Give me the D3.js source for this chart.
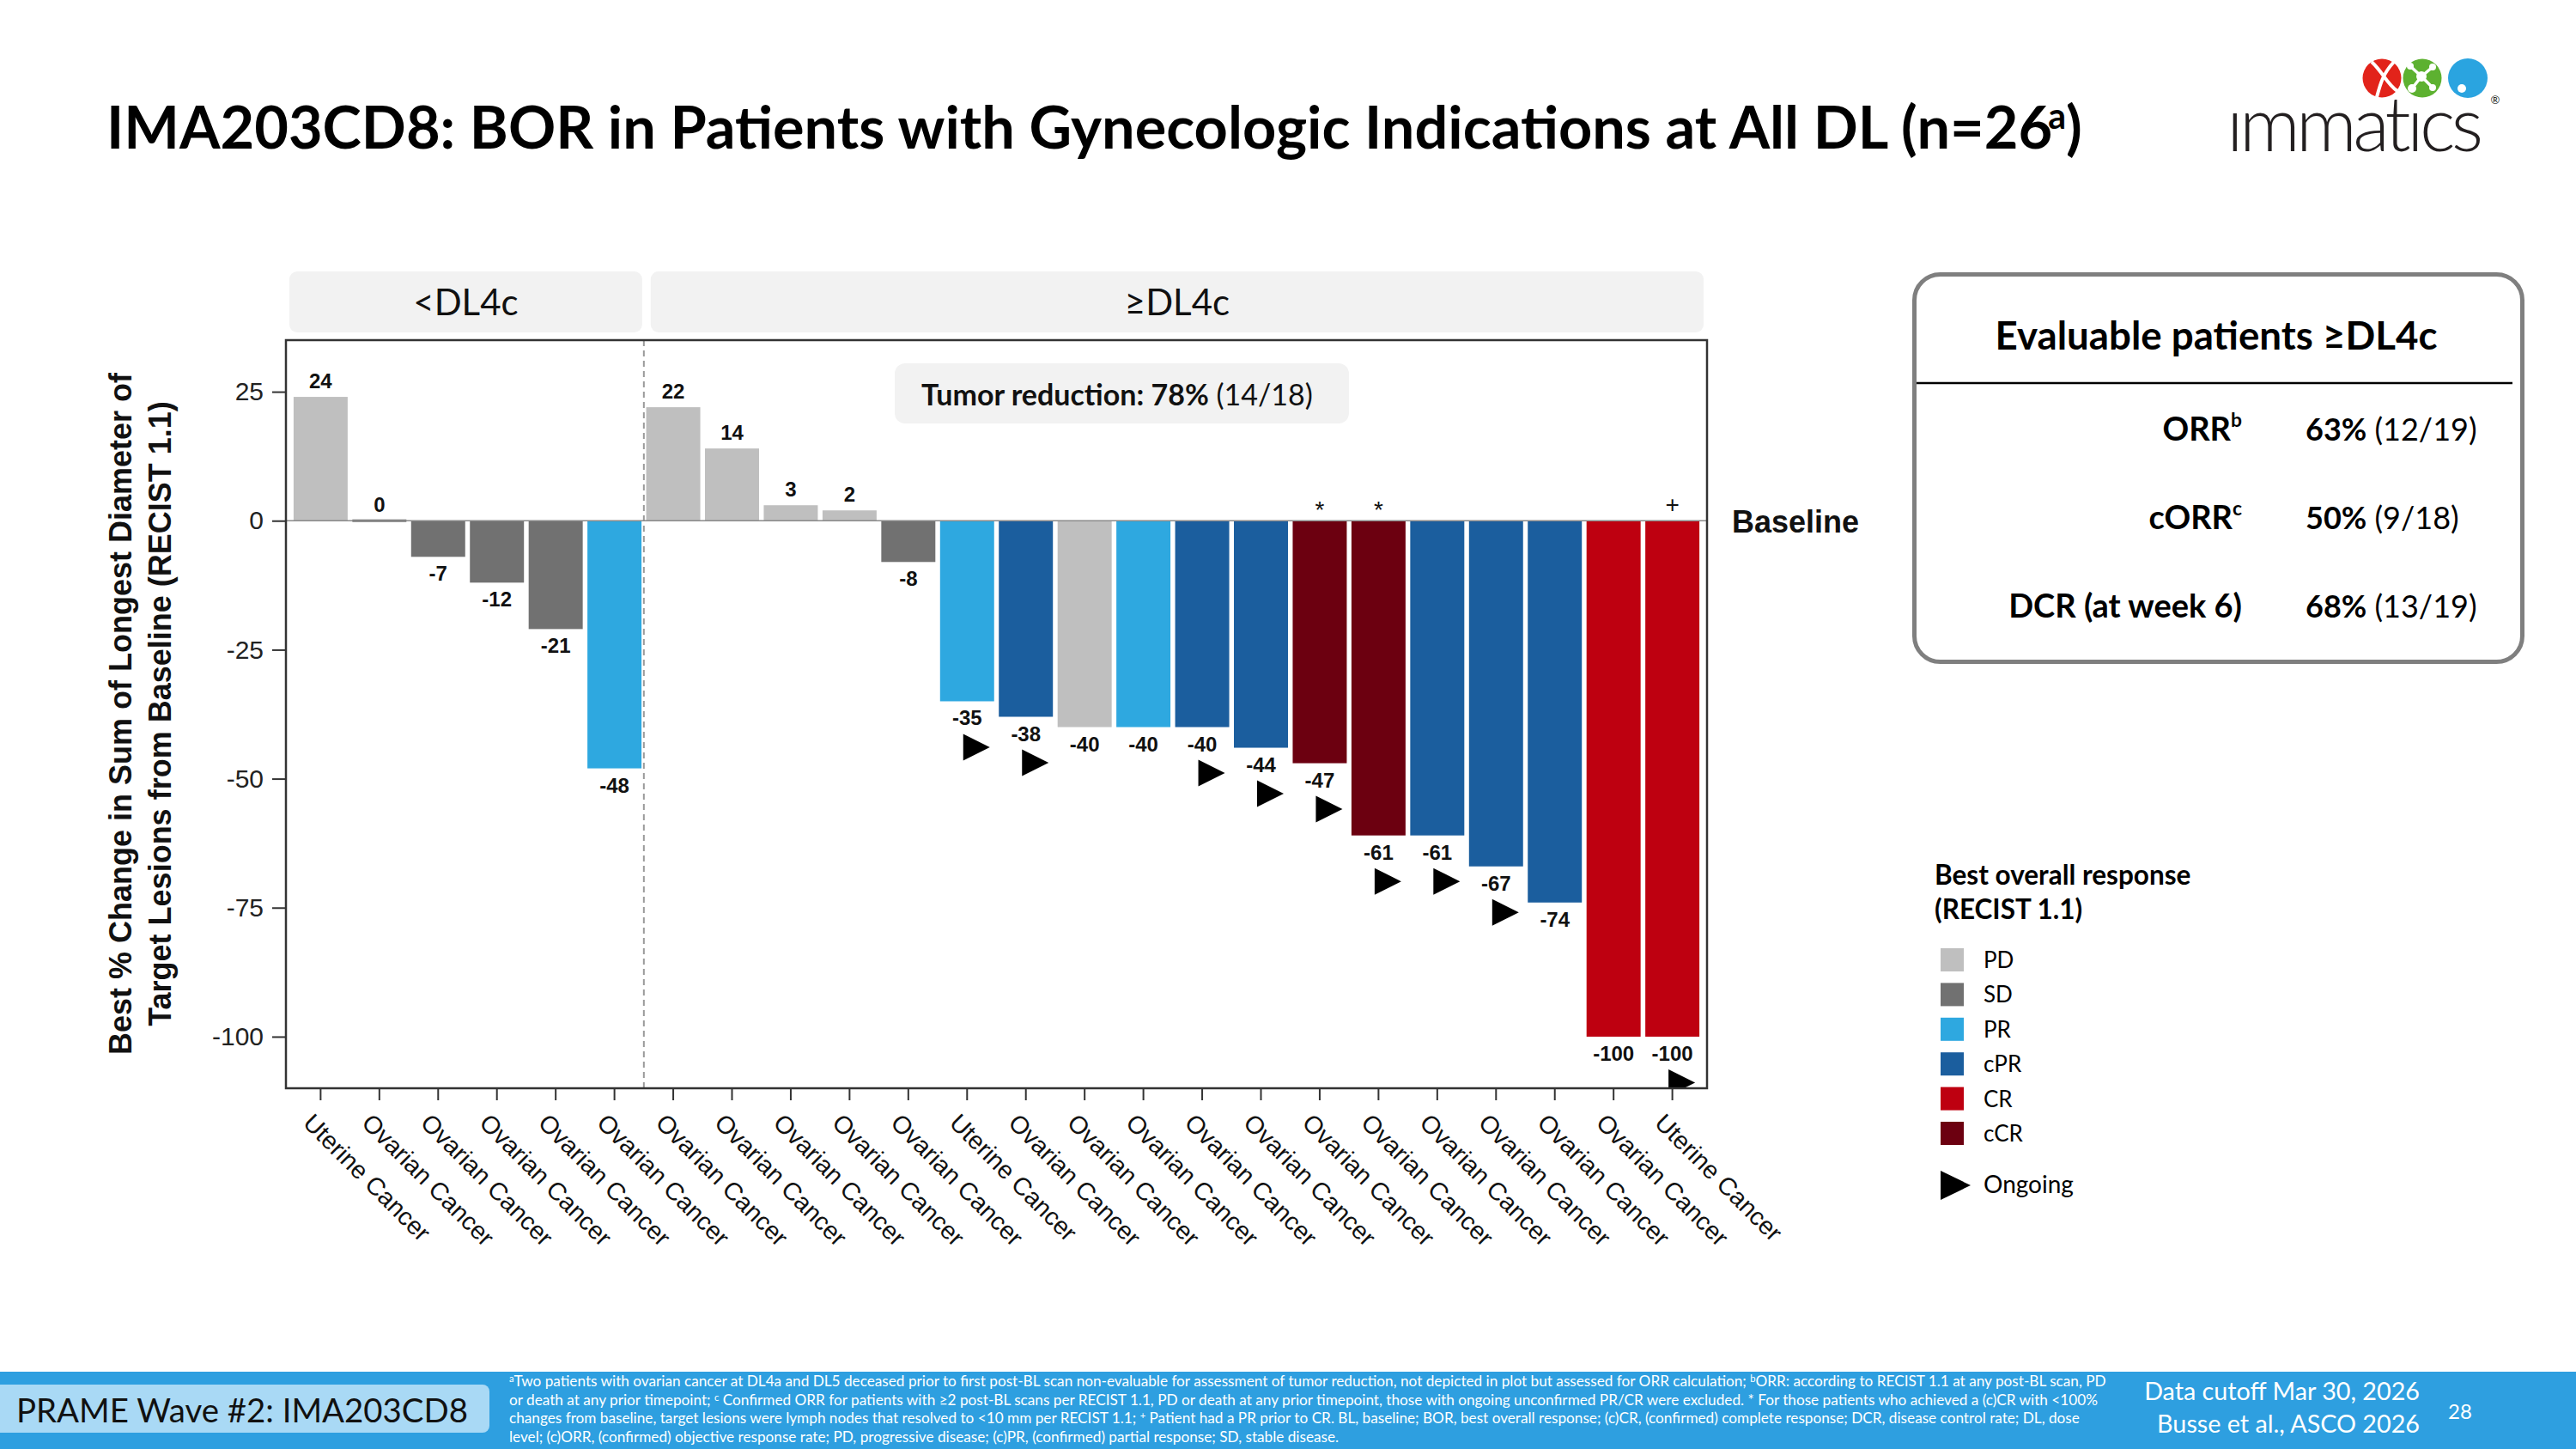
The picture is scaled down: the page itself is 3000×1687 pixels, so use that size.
<!DOCTYPE html>
<html><head><meta charset="utf-8">
<script src="https://cdn.jsdelivr.net/npm/d3@7"></script>
<style>body{margin:0;background:#fff} svg{display:block}</style>
</head><body>
<svg id="c" width="3000" height="1687"></svg>
<script>
// ---------------- DATA ----------------
const categories = ["Uterine Cancer","Ovarian Cancer","Ovarian Cancer","Ovarian Cancer","Ovarian Cancer","Ovarian Cancer",
  "Ovarian Cancer","Ovarian Cancer","Ovarian Cancer","Ovarian Cancer","Ovarian Cancer","Uterine Cancer",
  "Ovarian Cancer","Ovarian Cancer","Ovarian Cancer","Ovarian Cancer","Ovarian Cancer","Ovarian Cancer",
  "Ovarian Cancer","Ovarian Cancer","Ovarian Cancer","Ovarian Cancer","Ovarian Cancer","Uterine Cancer"];
const values = [24,0,-7,-12,-21,-48,22,14,3,2,-8,-35,-38,-40,-40,-40,-44,-47,-61,-61,-67,-74,-100,-100];
const responses = ["PD","SD","SD","SD","SD","PR","PD","PD","PD","PD","SD","PR","cPR","PD","PR","cPR","cPR","cCR","cCR","cPR","cPR","cPR","CR","CR"];
const ongoing = [0,0,0,0,0,0,0,0,0,0,0,1,1,0,0,1,1,1,1,1,1,0,0,1];
const marks = ["","","","","","","","","","","","","","","","","","*","*","","","","","+"];
const doseGroups = ["<DL4c","<DL4c","<DL4c","<DL4c","<DL4c","<DL4c","≥DL4c","≥DL4c","≥DL4c","≥DL4c","≥DL4c","≥DL4c",
  "≥DL4c","≥DL4c","≥DL4c","≥DL4c","≥DL4c","≥DL4c","≥DL4c","≥DL4c","≥DL4c","≥DL4c","≥DL4c","≥DL4c"];
const yTicks = [25,0,-25,-50,-75,-100];
const legendKeys = ["PD","SD","PR","cPR","CR","cCR"];
const legendColors = ["#BFBFBF","#717171","#2EA8E0","#1B5E9E","#BE0010","#6C0010"];
const summaryLabels = ["ORR","cORR","DCR (at week 6)"];
const summarySups = ["b","c",""];
const summaryPct = ["63%","50%","68%"];
const summaryFrac = ["(12/19)","(9/18)","(13/19)"];

// ---------------- SETUP ----------------
const svg = d3.select("#c");
const SLIDE = "Lato, 'Open Sans', 'Noto Sans', sans-serif";
const CHART = "'Liberation Sans', Arial, sans-serif";
function fit(sel, w){
  const cur = parseFloat(sel.attr("font-size"));
  const len = sel.node().getComputedTextLength();
  if (len > 0) sel.attr("font-size", cur * w / len);
  return sel;
}
const color = d3.scaleOrdinal().domain(legendKeys).range(legendColors);

// ---------------- TITLE ----------------
const title = svg.append("text").attr("x",124).attr("y",173)
  .attr("font-family",SLIDE).attr("font-weight",700).attr("font-size",64).attr("fill","#000");
title.append("tspan").text("IMA203CD8: BOR in Patients with Gynecologic Indications at All DL (n=26");
title.append("tspan").attr("font-size","0.6em").attr("dy","-0.55em").attr("dx","-0.12em").text("a");
title.append("tspan").attr("dy","0.33em").text(")");
fit(title, 2306);

// ---------------- LOGO ----------------
const logo = svg.append("g");
const logoText = logo.append("text").attr("x",2593).attr("y",176).attr("font-family",SLIDE).attr("font-weight",300)
  .attr("font-size",88).attr("fill","#231f20").text("ımmatıcs");
{
  const w = logoText.node().getComputedTextLength();
  logoText.attr("letter-spacing", (296 - w) / 8);
}
logo.append("text").attr("x",2906).attr("y",121).attr("font-family",SLIDE).attr("font-size",13)
  .attr("text-anchor","middle").attr("fill","#231f20").text("®");
logo.append("circle").attr("cx",2774).attr("cy",91).attr("r",22.5).attr("fill","#E2231A");
logo.append("path").attr("d","M2762,72 C2775,84 2780,98 2792,106 M2788,72 C2775,86 2772,98 2768,113")
  .attr("stroke","#fff").attr("stroke-width",4).attr("fill","none");
logo.append("circle").attr("cx",2821).attr("cy",91).attr("r",22.5).attr("fill","#5DB130");
logo.append("path").attr("d","M2807,77 L2820,89 L2833,78 M2820,89 L2809,103 M2820,89 L2833,102")
  .attr("stroke","#fff").attr("stroke-width",3.5).attr("fill","none");
[[2807,77,4],[2820,89,6],[2833,78,4],[2809,103,5],[2833,102,4]].forEach(p=>
  logo.append("circle").attr("cx",p[0]).attr("cy",p[1]).attr("r",p[2]).attr("fill","#fff"));
logo.append("circle").attr("cx",2874).attr("cy",91).attr("r",23).attr("fill","#2AA4E0");
logo.append("circle").attr("cx",2867).attr("cy",103).attr("r",5).attr("fill","#fff");

// ---------------- CHART SCALES ----------------
const L=333, R=1988, T=396, B=1267;
const x = d3.scaleBand().domain(d3.range(values.length)).range([L,R]).paddingInner(0.08).paddingOuter(0.13);
const y = d3.scaleLinear().domain([-110,35]).range([B,T]);
const bw = x.bandwidth();
const y0 = y(0);

// strips
const nLow = doseGroups.filter(g=>g==="<DL4c").length;
const divX = (x(nLow-1)+bw + x(nLow))/2;
const groups = [
  {name:"<DL4c", x0:L+4, x1:divX-2},
  {name:"≥DL4c", x0:divX+8, x1:R-4}
];
groups.forEach(g=>{
  svg.append("rect").attr("x",g.x0).attr("y",316).attr("width",g.x1-g.x0).attr("height",71)
    .attr("rx",9).attr("fill","#F2F2F2");
  svg.append("text").attr("x",(g.x0+g.x1)/2).attr("y",367).attr("text-anchor","middle")
    .attr("font-family",SLIDE).attr("font-size",42).attr("fill","#111").text(g.name);
});

svg.append("defs").append("clipPath").attr("id","panel")
  .append("rect").attr("x",L).attr("y",T).attr("width",R-L).attr("height",B-T);

const plot = svg.append("g");
// dashed divider
plot.append("line").attr("x1",divX).attr("x2",divX).attr("y1",T).attr("y2",B)
  .attr("stroke","#9a9a9a").attr("stroke-width",2).attr("stroke-dasharray","7,5");

// bars
plot.append("g").selectAll("rect").data(values).join("rect")
  .attr("x",(d,i)=>x(i)).attr("width",bw)
  .attr("y",d=> d===0 ? y0-1.5 : Math.min(y(d),y0))
  .attr("height",d=> d===0 ? 3 : Math.abs(y(d)-y0))
  .attr("fill",(d,i)=>color(responses[i]));

// zero line
plot.append("line").attr("x1",L).attr("x2",R).attr("y1",y0).attr("y2",y0)
  .attr("stroke","#8a8a8a").attr("stroke-width",1.5);

// value labels
plot.append("g").selectAll("text").data(values).join("text")
  .attr("x",(d,i)=>x(i)+bw/2)
  .attr("y",d=> d>=0 ? y(d)-10 : y(d)+28)
  .attr("text-anchor","middle").attr("font-family",CHART).attr("font-weight",700)
  .attr("font-size",24).attr("fill","#111").text(d=>d);

// ongoing triangles
plot.append("g").attr("clip-path","url(#panel)").selectAll("path")
  .data(values.map((v,i)=>({v,i})).filter(d=>ongoing[d.i])).join("path")
  .attr("d",d=>{ const cx=x(d.i)+bw/2, b=y(d.v)+38;
    return `M${cx-4.5},${b} L${cx+26.5},${b+15.5} L${cx-4.5},${b+31} Z`; })
  .attr("fill","#000");

// * and + marks
plot.append("g").selectAll("text").data(values.map((v,i)=>({v,i,m:marks[i]})).filter(d=>d.m)).join("text")
  .attr("x",d=>x(d.i)+bw/2).attr("y",d=> d.m==="*" ? 603 : 597)
  .attr("text-anchor","middle").attr("font-family",CHART).attr("font-size",28).attr("fill","#111")
  .text(d=>d.m);

// panel border
plot.append("rect").attr("x",L).attr("y",T).attr("width",R-L).attr("height",B-T)
  .attr("fill","none").attr("stroke","#333").attr("stroke-width",2.5);

// axes
const yAxis = svg.append("g").attr("transform",`translate(${L},0)`)
  .call(d3.axisLeft(y).tickValues(yTicks).tickFormat(d=>String(d)).tickSize(16).tickPadding(10));
yAxis.select(".domain").remove();
yAxis.selectAll("line").attr("stroke","#333").attr("stroke-width",2);
yAxis.selectAll("text").attr("font-family",CHART).attr("font-size",30).attr("fill","#222");

const xAxis = svg.append("g").attr("transform",`translate(0,${B})`)
  .call(d3.axisBottom(x).tickFormat(i=>categories[i]).tickSize(14));
xAxis.select(".domain").remove();
xAxis.selectAll("line").attr("stroke","#333").attr("stroke-width",2);
xAxis.selectAll("text").attr("font-family",CHART).attr("font-size",29).attr("fill","#111")
  .attr("y",null).attr("dy",null).attr("x",null)
  .attr("text-anchor","start").attr("transform","translate(-22,42) rotate(45)");

// y axis title
const yt = ["Best % Change in Sum of Longest Diameter of","Target Lesions from Baseline (RECIST 1.1)"];
yt.forEach((t,k)=>{
  svg.append("text").attr("transform",`translate(${153+46*k},831) rotate(-90)`)
    .attr("text-anchor","middle").attr("font-family",CHART).attr("font-weight",700)
    .attr("font-size",36).attr("fill","#111").text(t);
});

// Baseline label
svg.append("text").attr("x",2017).attr("y",620).attr("font-family",CHART).attr("font-weight",700)
  .attr("font-size",36).attr("fill","#111").text("Baseline");

// tumor reduction box
svg.append("rect").attr("x",1042).attr("y",423).attr("width",529).attr("height",70).attr("rx",12).attr("fill","#F2F2F2");
const tr = svg.append("text").attr("x",1073).attr("y",472).attr("font-family",SLIDE).attr("font-size",32).attr("fill","#111");
tr.append("tspan").attr("font-weight",700).text("Tumor reduction: 78%");
tr.append("tspan").text(" (14/18)");
fit(tr, 456);

// ---------------- SUMMARY BOX ----------------
svg.append("rect").attr("x",2229.5).attr("y",319.5).attr("width",708).attr("height",451).attr("rx",30)
  .attr("fill","#fff").attr("stroke","#7f7f7f").attr("stroke-width",5);
const st = svg.append("text").attr("x",2581).attr("y",407).attr("text-anchor","middle")
  .attr("font-family",SLIDE).attr("font-weight",700).attr("font-size",42).attr("fill","#000")
  .text("Evaluable patients ≥DL4c");
fit(st, 515);
svg.append("line").attr("x1",2232).attr("x2",2926).attr("y1",446).attr("y2",446).attr("stroke","#000").attr("stroke-width",2.5);
summaryLabels.forEach((lab,k)=>{
  const yy = 513 + 103*k;
  const t = svg.append("text").attr("x",2611).attr("y",yy).attr("text-anchor","end")
    .attr("font-family",SLIDE).attr("font-weight",700).attr("font-size",38).attr("fill","#000");
  t.append("tspan").text(lab);
  if (summarySups[k]) t.append("tspan").attr("font-size","0.6em").attr("dy","-0.7em").text(summarySups[k]);
  const v = svg.append("text").attr("x",2685).attr("y",yy)
    .attr("font-family",SLIDE).attr("font-size",36).attr("fill","#000");
  v.append("tspan").attr("font-weight",700).text(summaryPct[k]);
  v.append("tspan").text(" " + summaryFrac[k]);
});

// ---------------- LEGEND ----------------
svg.append("text").attr("x",2253).attr("y",1030).attr("font-family",SLIDE).attr("font-weight",700)
  .attr("font-size",31.5).attr("fill","#000").text("Best overall response");
svg.append("text").attr("x",2253).attr("y",1070).attr("font-family",SLIDE).attr("font-weight",700)
  .attr("font-size",31.5).attr("fill","#000").text("(RECIST 1.1)");
legendKeys.forEach((k,i)=>{
  svg.append("rect").attr("x",2260).attr("y",1104+40.4*i).attr("width",27).attr("height",27).attr("fill",color(k));
  svg.append("text").attr("x",2310).attr("y",1127+40.4*i).attr("font-family",SLIDE).attr("font-size",26)
    .attr("fill","#000").text(k);
});
svg.append("path").attr("d","M2260,1363 L2295,1380 L2260,1397 Z").attr("fill","#000");
svg.append("text").attr("x",2310).attr("y",1389).attr("font-family",SLIDE).attr("font-size",28)
  .attr("fill","#000").text("Ongoing");

// ---------------- FOOTER ----------------
svg.append("rect").attr("x",0).attr("y",1597).attr("width",3000).attr("height",90).attr("fill","#2E9FE0");
svg.append("rect").attr("x",-12).attr("y",1612).attr("width",582).attr("height",56).attr("rx",8).attr("fill","#A9D9F5");
const pw = svg.append("text").attr("x",19).attr("y",1656).attr("font-family",SLIDE).attr("font-size",34)
  .attr("fill","#111").text("PRAME Wave #2: IMA203CD8");
fit(pw, 526);

const foot = [
  [["a",1],["Two patients with ovarian cancer at DL4a and DL5 deceased prior to first post-BL scan non-evaluable for assessment of tumor reduction, not depicted in plot but assessed for ORR calculation; ",0],["b",1],["ORR: according to RECIST 1.1 at any post-BL scan, PD",0]],
  [["or death at any prior timepoint; ",0],["c",1],[" Confirmed ORR for patients with ≥2 post-BL scans per RECIST 1.1, PD or death at any prior timepoint, those with ongoing unconfirmed PR/CR were excluded. * For those patients who achieved a (c)CR with <100%",0]],
  [["changes from baseline, target lesions were lymph nodes that resolved to <10 mm per RECIST 1.1; ",0],["+",1],[" Patient had a PR prior to CR. BL, baseline; BOR, best overall response; (c)CR, (confirmed) complete response; DCR, disease control rate; DL, dose",0]],
  [["level; (c)ORR, (confirmed) objective response rate; PD, progressive disease; (c)PR, (confirmed) partial response; SD, stable disease.",0]]
];
const footNodes = foot.map((segs,k)=>{
  const t = svg.append("text").attr("x",593).attr("y",1614+21.7*k).attr("font-family",SLIDE)
    .attr("font-size",15).attr("fill","#fff");
  let up=false;
  segs.forEach(s=>{
    const sp = t.append("tspan").text(s[0]);
    if (s[1]) { sp.attr("font-size","0.65em").attr("dy","-0.45em"); up=true; }
    else if (up) { sp.attr("dy","0.29em"); up=false; }
  });
  return t;
});
const fs0 = 15 * 1860 / footNodes[0].node().getComputedTextLength();
footNodes.forEach(t=>t.attr("font-size",fs0));

const dc = svg.append("text").attr("x",2818).attr("y",1630).attr("text-anchor","end").attr("font-family",SLIDE)
  .attr("font-size",28).attr("fill","#fff").text("Data cutoff Mar 30, 2026");
fit(dc, 321);
svg.append("text").attr("x",2818).attr("y",1668).attr("text-anchor","end").attr("font-family",SLIDE)
  .attr("font-size",dc.attr("font-size")).attr("fill","#fff").text("Busse et al., ASCO 2026");
svg.append("text").attr("x",2865).attr("y",1652).attr("text-anchor","middle").attr("font-family",SLIDE)
  .attr("font-size",24).attr("fill","#fff").text("28");
</script></body></html>
